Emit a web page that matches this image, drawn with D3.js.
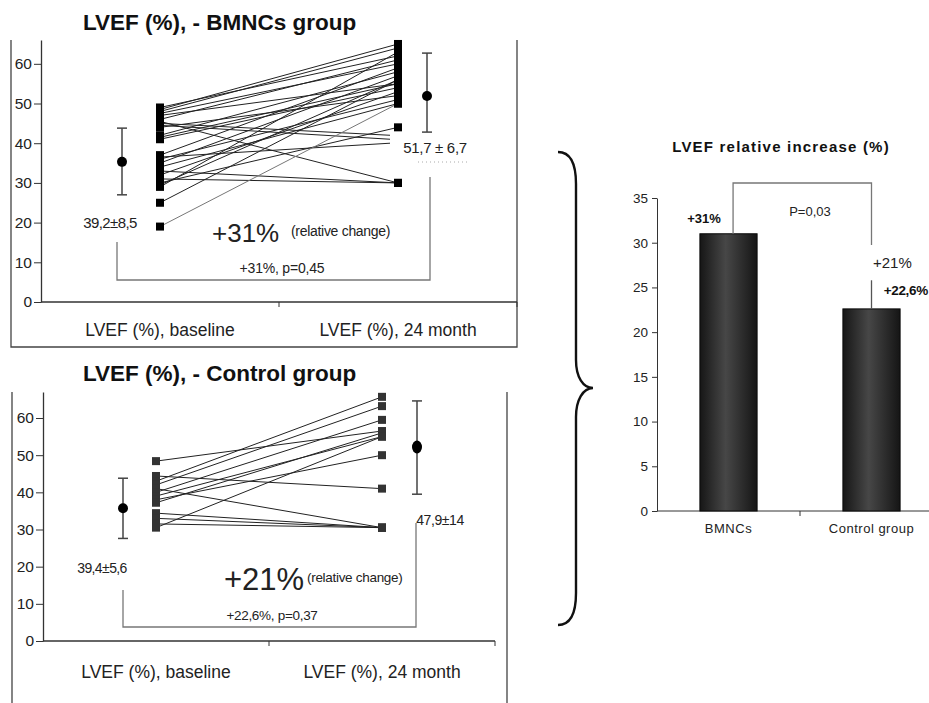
<!DOCTYPE html>
<html>
<head>
<meta charset="utf-8">
<script src="https://cdn.jsdelivr.net/npm/d3@7"></script>
<style>
  body { margin: 0; background: #fff; }
  svg { display: block; font-family: "Liberation Sans", Arial, sans-serif; }
  .axis path, .axis line { stroke: #333; }
  .axis text { fill: #222; }
</style>
</head>
<body>
<div id="chart"></div>
<script>
// ---- data ----
const timepoints = ["LVEF (%), baseline", "LVEF (%), 24 month"];

// BMNCs group: paired LVEF values per patient
const bmncBaseline = [49, 48.5, 48, 47.5, 47, 46, 45.5, 45, 44.5, 44, 42, 41.5, 41,
  37, 36.5, 36, 35, 34, 33, 32, 31, 30, 29.5, 29, 25, 19];
const bmncMonth24 = [62, 65, 64, 60, 55, 61, 30, 42, 41, 52, 58, 55, 54,
  59, 40, 51, 57, 50, 30, 53, 30, 44, 56, 63, 56, 50];
const bmncUnmarked = [7, 8, 14]; // lines that end without a marker at 24 month
const bmncMean = [35.3, 51.9];
const bmncErrLow = [27, 42.8];
const bmncErrHigh = [43.8, 62.7];

// Control group
const ctrlBaseline = [48.4, 44.4, 43, 42, 41, 40, 39, 38, 37.2, 34.4, 33, 31.5, 30.5];
const ctrlMonth24 = [56.5, 41, 65.7, 63.2, 30.5, 59.5, 55, 50, 56, 30.5, 30.5, 30.5, 55];
const ctrlMean = [35.7, 52.2];
const ctrlErrLow = [27.6, 39.5];
const ctrlErrHigh = [43.8, 64.6];

// relative increase
const groups = ["BMNCs", "Control group"];
const relIncrease = [31, 22.6];
const relErrHigh = [null, 25.8];

const leftTicks = [0, 10, 20, 30, 40, 50, 60];
const rightTicks = [0, 5, 10, 15, 20, 25, 30, 35];

const svg = d3.select("#chart").append("svg")
  .attr("width", 929).attr("height", 703);

const defs = svg.append("defs");
const grad = defs.append("linearGradient").attr("id", "barGrad")
  .attr("x1", "0%").attr("x2", "100%").attr("y1", "0%").attr("y2", "0%");
grad.append("stop").attr("offset", "0%").attr("stop-color", "#161616");
grad.append("stop").attr("offset", "45%").attr("stop-color", "#474747");
grad.append("stop").attr("offset", "100%").attr("stop-color", "#151515");

function pairedPanel(cfg) {
  const g = svg.append("g");
  const x = d3.scalePoint().domain(timepoints).range(cfg.xRange).padding(0.5);
  const y = d3.scaleLinear().domain([0, cfg.yMax]).range(cfg.yRange);
  const step = x.step();

  // frame
  g.append("path")
    .attr("d", cfg.frame)
    .attr("fill", "none").attr("stroke", "#444").attr("stroke-width", 1.3);

  // title
  g.append("text")
    .attr("x", cfg.titleX).attr("y", cfg.titleY)
    .attr("font-size", 22.5).attr("font-weight", "bold").attr("fill", "#111")
    .text(cfg.title);

  // y axis
  g.append("g").attr("class", "axis")
    .attr("transform", `translate(${cfg.xRange[0]},0)`)
    .call(d3.axisLeft(y).tickValues(leftTicks).tickSize(7).tickSizeOuter(0).tickPadding(2))
    .call(a => a.selectAll("text").attr("font-size", 15.5))
    .call(a => a.select(".domain").attr("stroke-width", 1.3));

  // x axis with boundary ticks
  const xa = g.append("g").attr("class", "axis");
  xa.append("line")
    .attr("x1", cfg.xRange[0]).attr("x2", cfg.xRange[1])
    .attr("y1", y(0)).attr("y2", y(0)).attr("stroke-width", 1.3);
  const bounds = [cfg.xRange[0] + step, cfg.xRange[1]];
  xa.selectAll(".bt").data(bounds).join("line")
    .attr("x1", d => d).attr("x2", d => d)
    .attr("y1", y(0)).attr("y2", y(0) + 5);
  xa.selectAll(".cat").data(timepoints).join("text")
    .attr("x", d => x(d)).attr("y", cfg.catY)
    .attr("text-anchor", "middle").attr("font-size", 17.5).attr("fill", "#222")
    .text(d => d);

  // paired lines
  const x0 = x(timepoints[0]), x1 = x(timepoints[1]);
  g.selectAll(".pl").data(cfg.base).join("line")
    .attr("x1", x0).attr("y1", d => y(d))
    .attr("x2", (d, i) => cfg.unmarked.includes(i) ? x1 - 8 : x1)
    .attr("y2", (d, i) => y(cfg.m24[i]))
    .attr("stroke", (d, i) => i === cfg.base.length - 1 && cfg.fadeLast ? "#777" : "#222")
    .attr("stroke-width", 1);

  const sq = 8;
  g.selectAll(".sb").data(cfg.base).join("rect")
    .attr("x", x0 - sq / 2).attr("y", d => y(d) - sq / 2)
    .attr("width", sq).attr("height", sq).attr("fill", cfg.markerColor);
  g.selectAll(".se").data(cfg.m24.filter((d, i) => !cfg.unmarked.includes(i))).join("rect")
    .attr("x", x1 - sq / 2).attr("y", d => y(d) - sq / 2)
    .attr("width", sq).attr("height", sq).attr("fill", cfg.markerColor);

  // mean +- sd
  timepoints.forEach((t, i) => {
    const cx = x(t) + cfg.meanOffset[i];
    g.append("line").attr("x1", cx).attr("x2", cx)
      .attr("y1", y(cfg.lo[i])).attr("y2", y(cfg.hi[i]))
      .attr("stroke", "#444").attr("stroke-width", 1.5);
    [cfg.lo[i], cfg.hi[i]].forEach(v => {
      g.append("line").attr("x1", cx - 5).attr("x2", cx + 5)
        .attr("y1", y(v)).attr("y2", y(v))
        .attr("stroke", "#444").attr("stroke-width", 1.5);
    });
    g.append("ellipse").attr("cx", cx).attr("cy", y(cfg.mean[i]))
      .attr("rx", 5).attr("ry", cfg.ry[i]).attr("fill", "#000");
  });

  // annotations
  cfg.labels.forEach(l => {
    g.append("text").attr("x", l.x).attr("y", l.y)
      .attr("text-anchor", l.anchor || "start")
      .attr("font-size", l.size).attr("fill", "#222")
      .attr("letter-spacing", l.ls || 0)
      .text(l.text);
  });

  // bracket
  g.append("path").attr("d", cfg.bracket)
    .attr("fill", "none").attr("stroke", "#777").attr("stroke-width", 1.3);
  return g;
}

// top: BMNCs
const topPanel = pairedPanel({
  xRange: [41, 517], yRange: [302, 40], yMax: 66,
  frame: "M11,40 L11,347 L517,347 L517,40",
  title: "LVEF (%), - BMNCs group", titleX: 83, titleY: 30,
  catY: 336,
  base: bmncBaseline, m24: bmncMonth24, unmarked: bmncUnmarked, fadeLast: true,
  markerColor: "#000",
  mean: bmncMean, lo: bmncErrLow, hi: bmncErrHigh, meanOffset: [-38, 29], ry: [5, 5],
  labels: [
    { x: 110, y: 228, text: "39,2±8,5", size: 15, anchor: "middle", ls: -0.6 },
    { x: 435, y: 153, text: "51,7 ± 6,7", size: 15, anchor: "middle", ls: -0.3 },
    { x: 212, y: 242, text: "+31%", size: 26 },
    { x: 291, y: 236, text: "(relative change)", size: 14, ls: -0.3 },
    { x: 282, y: 273, text: "+31%, p=0,45", size: 14, anchor: "middle", ls: -0.2 }
  ],
  bracket: "M117,242 L117,280 L430,280 L430,177"
});
topPanel.append("line").attr("x1", 418).attr("x2", 470).attr("y1", 162).attr("y2", 162)
  .attr("stroke", "#aaa").attr("stroke-dasharray", "1,3");

// bottom: Control
pairedPanel({
  xRange: [43, 495], yRange: [641, 392], yMax: 67,
  frame: "M12,392 L12,703 M507,392 L507,703",
  title: "LVEF (%), - Control group", titleX: 83, titleY: 381,
  catY: 678,
  base: ctrlBaseline, m24: ctrlMonth24, unmarked: [], fadeLast: false,
  markerColor: "#333",
  mean: ctrlMean, lo: ctrlErrLow, hi: ctrlErrHigh, meanOffset: [-33, 35], ry: [5, 6.5],
  labels: [
    { x: 102, y: 573, text: "39,4±5,6", size: 14, anchor: "middle", ls: -0.6 },
    { x: 440, y: 525, text: "47,9±14", size: 14, anchor: "middle", ls: -0.4 },
    { x: 224, y: 590, text: "+21%", size: 31 },
    { x: 307, y: 582, text: "(relative change)", size: 13.5, ls: -0.3 },
    { x: 272, y: 620, text: "+22,6%, p=0,37", size: 13.5, anchor: "middle", ls: -0.3 }
  ],
  bracket: "M123,590 L123,627 L416,627 L416,523"
});

// curly brace
svg.append("path")
  .attr("d", "M558,152 C571,152 576,165 576,184 L576,360 C576,377 583,388 593,388 C583,388 576,400 576,417 L576,593 C576,612 571,625 558,625")
  .attr("fill", "none").attr("stroke", "#111").attr("stroke-width", 2.4);

// right: relative increase
const rg = svg.append("g");
const xb = d3.scaleBand().domain(groups).range([657, 943]).paddingInner(0.6).paddingOuter(0.3);
const yb = d3.scaleLinear().domain([0, 35]).range([511, 198]);

rg.append("text").attr("x", 781).attr("y", 152).attr("text-anchor", "middle")
  .attr("font-size", 15).attr("font-weight", "bold").attr("fill", "#111")
  .attr("letter-spacing", 1.2)
  .text("LVEF relative increase (%)");

rg.append("g").attr("class", "axis")
  .attr("transform", "translate(657,0)")
  .call(d3.axisLeft(yb).tickValues(rightTicks).tickSize(5).tickSizeOuter(0).tickPadding(4))
  .call(a => a.selectAll("text").attr("font-size", 13.5));

const xba = rg.append("g").attr("class", "axis");
xba.append("line").attr("x1", 657).attr("x2", 929).attr("y1", yb(0)).attr("y2", yb(0));
xba.append("line").attr("x1", 657 + xb.step()).attr("x2", 657 + xb.step())
  .attr("y1", yb(0)).attr("y2", yb(0) + 5);
xba.selectAll(".cl").data(groups).join("text")
  .attr("x", d => xb(d) + xb.bandwidth() / 2).attr("y", 533)
  .attr("text-anchor", "middle").attr("font-size", 13).attr("fill", "#222")
  .attr("letter-spacing", 0.5)
  .text(d => d);

rg.selectAll(".bar").data(groups).join("rect")
  .attr("x", d => xb(d)).attr("width", xb.bandwidth())
  .attr("y", (d, i) => yb(relIncrease[i]))
  .attr("height", (d, i) => yb(0) - yb(relIncrease[i]))
  .attr("fill", "url(#barGrad)").attr("stroke", "#0a0a0a").attr("stroke-width", 1);

// error bar on control
const cErrX = xb(groups[1]) + xb.bandwidth() / 2;
rg.append("line").attr("x1", cErrX).attr("x2", cErrX)
  .attr("y1", yb(relIncrease[1])).attr("y2", yb(relErrHigh[1]))
  .attr("stroke", "#555").attr("stroke-width", 1.3);

// significance bracket
const bx0 = xb(groups[0]) + xb.bandwidth() * 0.58;
rg.append("path")
  .attr("d", `M${bx0},${yb(relIncrease[0])} L${bx0},183 L${cErrX},183 L${cErrX},245`)
  .attr("fill", "none").attr("stroke", "#777").attr("stroke-width", 1.3);

rg.append("text").attr("x", 810).attr("y", 216).attr("text-anchor", "middle")
  .attr("font-size", 13).attr("fill", "#222").text("P=0,03");
rg.append("text").attr("x", 704).attr("y", 223).attr("text-anchor", "middle")
  .attr("font-size", 13).attr("font-weight", "bold").attr("fill", "#111").text("+31%");
rg.append("text").attr("x", 873).attr("y", 268)
  .attr("font-size", 15).attr("fill", "#222").text("+21%");
rg.append("text").attr("x", 928).attr("y", 295).attr("text-anchor", "end")
  .attr("font-size", 13.5).attr("font-weight", "bold").attr("fill", "#111")
  .attr("letter-spacing", -0.3).text("+22,6%");
</script>
</body>
</html>
